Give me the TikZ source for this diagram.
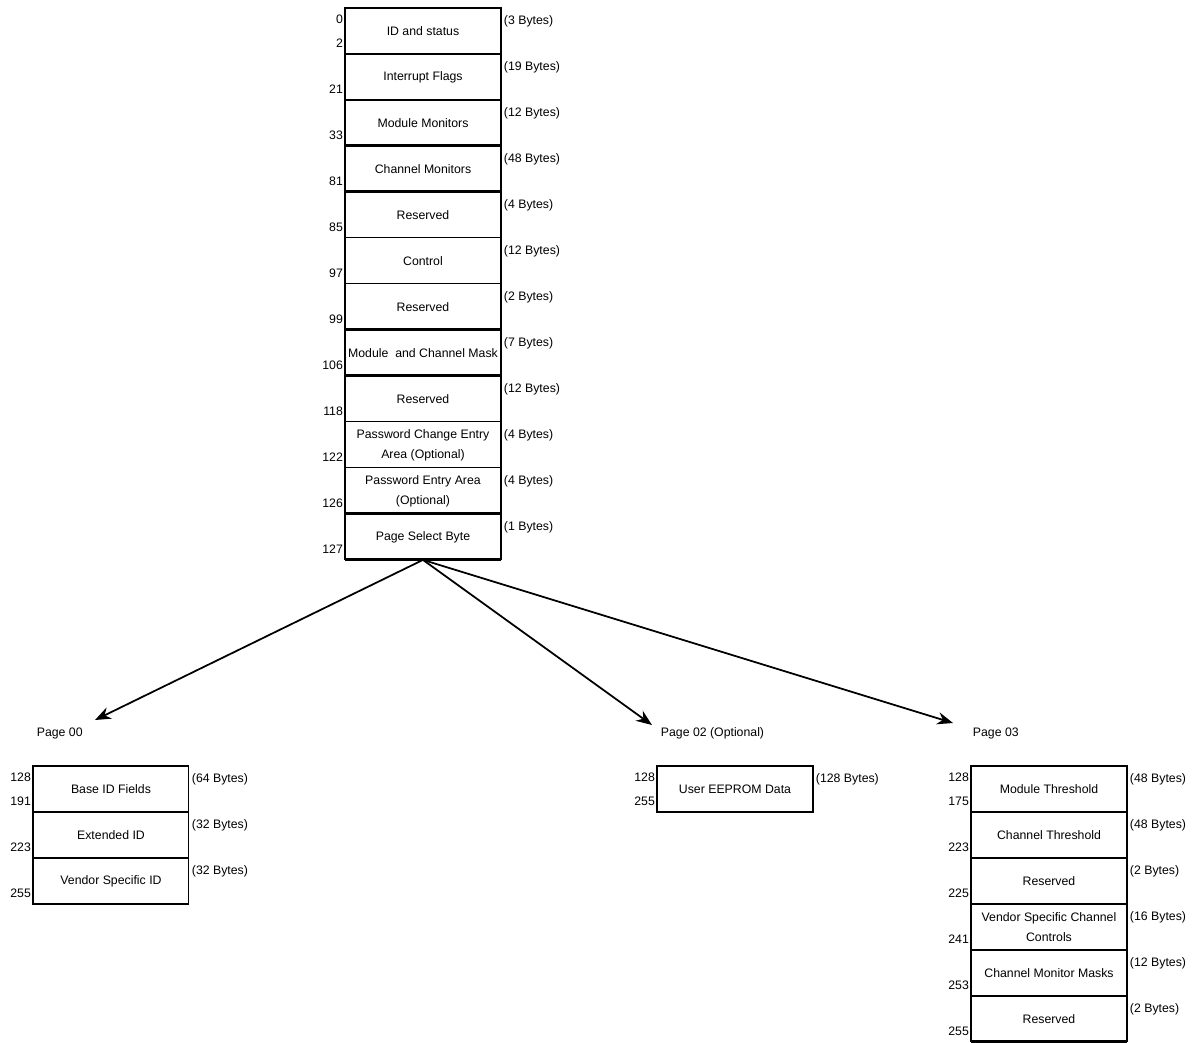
\documentclass[tikz,border=0pt]{standalone}
\usepackage{fontspec}
\setmainfont{Liberation Sans}
\usetikzlibrary{positioning, arrows.meta}
\tikzset{
    cell/.style={
        rectangle,
        draw,
        line width=0.6pt,
        minimum width=3.12cm,
        minimum height=0.92cm,
        inner xsep=1pt,
        inner ysep=2pt,
        outer sep=0pt,
        align=center
    },
    sep/.style={line width=1.7pt},
    lo/.style={anchor=south east, inner sep=1pt, yshift=2.5pt},
    hi/.style={anchor=north east, inner sep=1pt, yshift=-2.5pt},
    sz/.style={anchor=west, inner sep=1.5pt, yshift=-7.5pt},
    pagelbl/.style={anchor=west, inner sep=2pt},
    link/.style={
        -{Stealth[length=9pt, width=7pt]},
        line width=1pt
    }
}

\begin{document}
\begin{tikzpicture}[x=0.02cm, y=-0.02cm, font=\fontsize{7}{11.3}\selectfont]
    \useasboundingbox (0,0) rectangle (1192,1042);

    % Lower memory (0-127)
    \node[cell, anchor=north west, label={[hi]north west:0}, label={[lo]south west:2}, label={[sz]north east:(3 Bytes)}] (idst) at (345,8) {ID and status};
    \node[cell, below=0pt of idst, label={[lo]south west:21}, label={[sz]north east:(19 Bytes)}] (intf) {Interrupt Flags};
    \node[cell, below=0pt of intf, label={[lo]south west:33}, label={[sz]north east:(12 Bytes)}] (modmon) {Module Monitors};
    \node[cell, below=0pt of modmon, label={[lo]south west:81}, label={[sz]north east:(48 Bytes)}] (chmon) {Channel Monitors};
    \node[cell, below=0pt of chmon, label={[lo]south west:85}, label={[sz]north east:(4 Bytes)}] (rsvA) {Reserved};
    \node[cell, below=0pt of rsvA, label={[lo]south west:97}, label={[sz]north east:(12 Bytes)}] (ctrl) {Control};
    \node[cell, below=0pt of ctrl, label={[lo]south west:99}, label={[sz]north east:(2 Bytes)}] (rsvB) {Reserved};
    \node[cell, below=0pt of rsvB, label={[lo]south west:106}, label={[sz]north east:(7 Bytes)}] (mask) {Module \ and Channel Mask};
    \node[cell, below=0pt of mask, label={[lo]south west:118}, label={[sz]north east:(12 Bytes)}] (rsvC) {Reserved};
    \node[cell, below=0pt of rsvC, label={[lo]south west:122}, label={[sz]north east:(4 Bytes)}] (pwchg) {Password Change Entry\\Area (Optional)};
    \node[cell, below=0pt of pwchg, label={[lo]south west:126}, label={[sz]north east:(4 Bytes)}] (pwent) {Password Entry Area\\(Optional)};
    \node[cell, below=0pt of pwent, label={[lo]south west:127}, label={[sz]north east:(1 Bytes)}] (pgsel) {Page Select Byte};

    \draw[sep] (idst.north west) -- (idst.north east) (idst.south west) -- (idst.south east)
        (modmon.south west) -- (modmon.south east) (chmon.south west) -- (chmon.south east)
        (rsvB.south west) -- (rsvB.south east) (mask.south west) -- (mask.south east)
        (pwent.south west) -- (pwent.south east) (pgsel.south west) -- (pgsel.south east);

    % Page 00
    \node[pagelbl] (p00) at (33,733) {Page 00};
    \node[cell, anchor=north west, label={[hi]north west:128}, label={[lo]south west:191}, label={[sz]north east:(64 Bytes)}] (base) at (33,766) {Base ID Fields};
    \node[cell, below=0pt of base, label={[lo]south west:223}, label={[sz]north east:(32 Bytes)}] (extid) {Extended ID};
    \node[cell, below=0pt of extid, label={[lo]south west:255}, label={[sz]north east:(32 Bytes)}] (vendid) {Vendor Specific ID};
    \draw[sep] (extid.south west) -- (extid.south east) (vendid.south west) -- (vendid.south east);

    % Page 02
    \node[pagelbl] (p02) at (657,733) {Page 02 (Optional)};
    \node[cell, anchor=north west, label={[hi]north west:128}, label={[lo]south west:255}, label={[sz]north east:(128 Bytes)}] (eeprom) at (657,766) {User EEPROM Data};

    % Page 03
    \node[pagelbl] (p03) at (969,733) {Page 03};
    \node[cell, anchor=north west, label={[hi]north west:128}, label={[lo]south west:175}, label={[sz]north east:(48 Bytes)}] (modthr) at (971,766) {Module Threshold};
    \node[cell, below=0pt of modthr, label={[lo]south west:223}, label={[sz]north east:(48 Bytes)}] (chthr) {Channel Threshold};
    \node[cell, below=0pt of chthr, label={[lo]south west:225}, label={[sz]north east:(2 Bytes)}] (rsvD) {Reserved};
    \node[cell, below=0pt of rsvD, label={[lo]south west:241}, label={[sz]north east:(16 Bytes)}] (vscc) {Vendor Specific Channel\\Controls};
    \node[cell, below=0pt of vscc, label={[lo]south west:253}, label={[sz]north east:(12 Bytes)}] (cmm) {Channel Monitor Masks};
    \node[cell, below=0pt of cmm, label={[lo]south west:255}, label={[sz]north east:(2 Bytes)}] (rsvE) {Reserved};
    \draw[sep] (chthr.south west) -- (chthr.south east) (rsvD.south west) -- (rsvD.south east)
        (rsvE.south west) -- (rsvE.south east);

    % Page select
    \coordinate (t00) at (95,720);
    \coordinate (t02) at (652,725);
    \coordinate (t03) at (953,723);
    \draw[link] (pgsel.south) -- (t00);
    \draw[link] (pgsel.south) -- (t02);
    \draw[link] (pgsel.south) -- (t03);
\end{tikzpicture}
\end{document}
